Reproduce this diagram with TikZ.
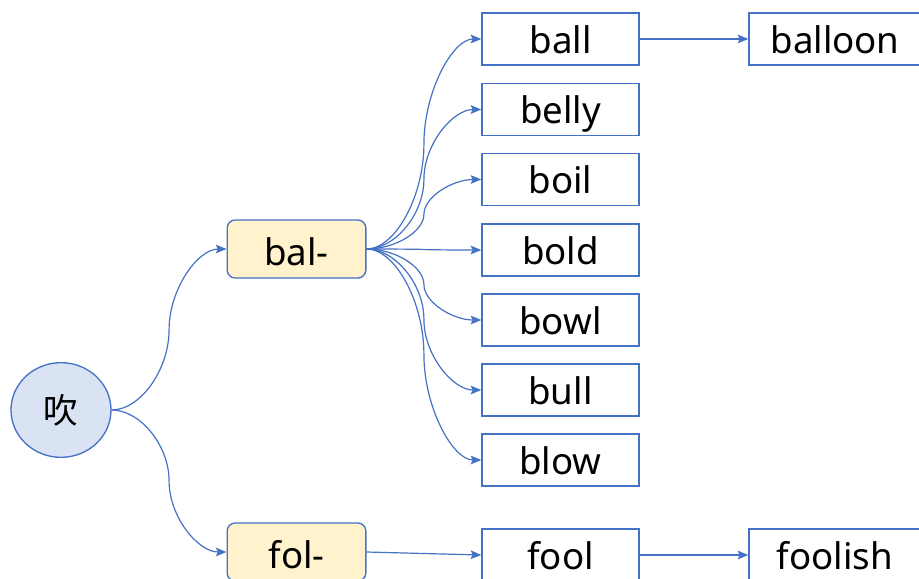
\documentclass[tikz,border=0pt]{standalone}
\usepackage{fontspec}
\setmainfont{Noto Sans}
\newfontfamily\cjk{Noto Sans CJK SC}
\usetikzlibrary{arrows.meta,calc,shapes.geometric}
\definecolor{lineblue}{HTML}{4472C4}
\definecolor{circfill}{HTML}{DAE3F3}
\definecolor{prefill}{HTML}{FFF2CC}
% curved connector (PowerPoint style): two cubic segments, vertical at the middle
\newcommand\sconn[2]{%
  \draw[linkarrow] let \p1=(#1.east), \p2=(#2.west),
      \n1={(\x1+\x2)/2}, \n2={(\y1+\y2)/2} in
    (\p1) .. controls ({(3*\x1+\x2)/4},\y1) and (\n1,{(3*\y1+\y2)/4}) .. (\n1,\n2)
          .. controls (\n1,{(\y1+3*\y2)/4}) and ({(\x1+3*\x2)/4},\y2) .. (\p2);}
\begin{document}
\begin{tikzpicture}[x=0.75pt,y=-0.75pt,
  rootnode/.style={ellipse,draw=lineblue,fill=circfill,line width=1pt,minimum width=75pt,minimum height=71pt,inner sep=0pt,font=\cjk\fontsize{26}{30}\selectfont},
  prefixbox/.style={draw=lineblue,fill=prefill,rounded corners=6pt,line width=1pt,minimum width=104pt,minimum height=43.5pt,inner sep=0pt,text height=27pt,text depth=3pt,font=\fontsize{27.5}{32}\selectfont},
  wordbox/.style={draw=lineblue,fill=white,line width=1pt,minimum width=117.75pt,minimum height=39pt,inner sep=0pt,text height=25pt,text depth=4pt,font=\fontsize{27.5}{32}\selectfont},
  longwordbox/.style={wordbox,minimum width=129pt},
  linkarrow/.style={draw=lineblue,line width=0.9pt,-{Stealth[length=8pt,width=6.5pt,inset=1.5pt]}}
]
\useasboundingbox (0,0) rectangle (919,578);
\clip (0,0) rectangle (919,578);
\fill[white] (0,0) rectangle (919,578);

\node[rootnode] (root) at (61,410) {吹};
\node[prefixbox] (bal) at (296.5,249) {bal-};
\node[prefixbox] (fol) at (296.5,552) {fol-};

\node[wordbox] (ball)  at (560.5,39)  {ball};
\node[wordbox] (belly) at (560.5,109.5) {belly};
\node[wordbox] (boil)  at (560.5,179.5) {boil};
\node[wordbox] (bold)  at (560.5,250) {bold};
\node[wordbox] (bowl)  at (560.5,320) {bowl};
\node[wordbox] (bull)  at (560.5,390) {bull};
\node[wordbox] (blow)  at (560.5,460) {blow};
\node[wordbox] (fool)  at (560.5,555) {fool};

\node[longwordbox] (balloon) at (835,39) {balloon};
\node[longwordbox] (foolish) at (835,555) {foolish};

\sconn{root}{bal}
\sconn{root}{fol}
\foreach \w in {ball,belly,boil,bold,bowl,bull,blow}
  {\sconn{bal}{\w}}

\draw[linkarrow] (ball.east) -- (balloon.west);
\draw[linkarrow] (fol.east) -- (fool.west);
\draw[linkarrow] (fool.east) -- (foolish.west);
\end{tikzpicture}
\end{document}
